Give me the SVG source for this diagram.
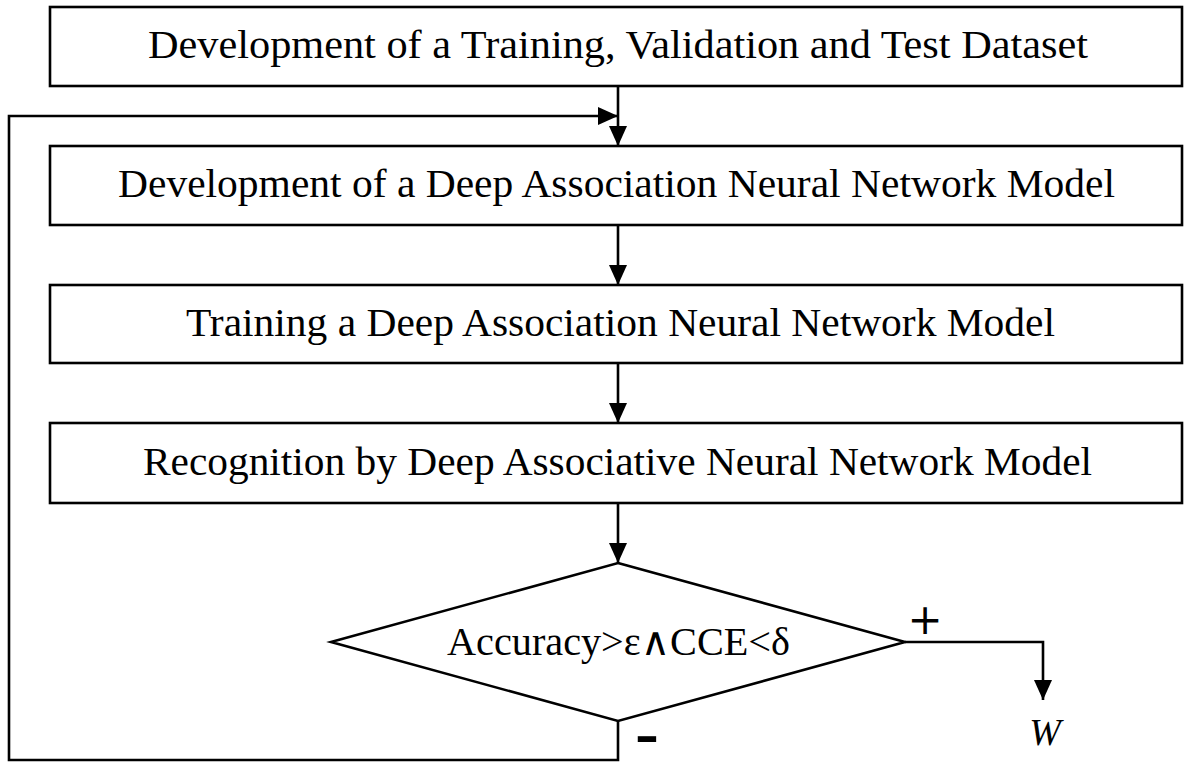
<svg xmlns="http://www.w3.org/2000/svg" width="1184" height="762" viewBox="0 0 1184 762">
<defs>
<marker id="arr" markerUnits="userSpaceOnUse" markerWidth="20" markerHeight="20" viewBox="0 0 20 20" refX="20" refY="10" orient="auto">
<path d="M0,1 L20,10 L0,19 Z" fill="#000"/>
</marker>
</defs>
<style>
.box{fill:#fff;stroke:#000;stroke-width:2.6}
.t{font-family:"Liberation Serif","DejaVu Serif",serif;font-size:39px;fill:#000;text-anchor:middle}
.c{fill:none;stroke:#000;stroke-width:2.6}
.s{font-family:"DejaVu Sans","Liberation Sans",sans-serif;fill:#000;text-anchor:middle}
</style>
<rect width="1184" height="762" fill="#fff"/>
<g id="connectors">
<line class="c" x1="618" y1="86" x2="618" y2="146" marker-end="url(#arr)"/>
<line class="c" x1="618" y1="225" x2="618" y2="285" marker-end="url(#arr)"/>
<line class="c" x1="618" y1="363" x2="618" y2="423" marker-end="url(#arr)"/>
<line class="c" x1="618" y1="503" x2="618" y2="563" marker-end="url(#arr)"/>
<polyline class="c" points="618,721 618,760 9,760 9,116 618,116" marker-end="url(#arr)"/>
<polyline class="c" points="905,642 1043,642 1043,700" marker-end="url(#arr)"/>
<text class="s" x="925" y="634" font-size="42">+</text>
<text class="s" transform="translate(647,751) scale(1.5,1)" x="0" y="0" font-size="40" font-weight="bold">-</text>
<text x="1045" y="745" font-family="Liberation Serif, DejaVu Serif, serif" font-style="italic" font-size="38" text-anchor="middle">W</text>
</g>
<g id="n1">
<rect class="box" x="50" y="7" width="1132" height="79"/>
<text class="t" x="618" y="58" textLength="940" lengthAdjust="spacingAndGlyphs">Development of a Training, Validation and Test Dataset</text>
</g>
<g id="n2">
<rect class="box" x="50" y="146" width="1132" height="79"/>
<text class="t" x="616.5" y="197" textLength="997" lengthAdjust="spacingAndGlyphs">Development of a Deep Association Neural Network Model</text>
</g>
<g id="n3">
<rect class="box" x="50" y="285" width="1132" height="78"/>
<text class="t" x="620.5" y="336" textLength="869" lengthAdjust="spacingAndGlyphs">Training a Deep Association Neural Network Model</text>
</g>
<g id="n4">
<rect class="box" x="50" y="423" width="1132" height="80"/>
<text class="t" x="617.5" y="475" textLength="949" lengthAdjust="spacingAndGlyphs">Recognition by Deep Associative Neural Network Model</text>
</g>
<g id="n5">
<polygon class="box" points="618,563 905,642 618,721 331,642"/>
<text class="t" x="618.5" y="655" textLength="343" lengthAdjust="spacingAndGlyphs">Accuracy&gt;ε∧CCE&lt;δ</text>
</g>
</svg>
